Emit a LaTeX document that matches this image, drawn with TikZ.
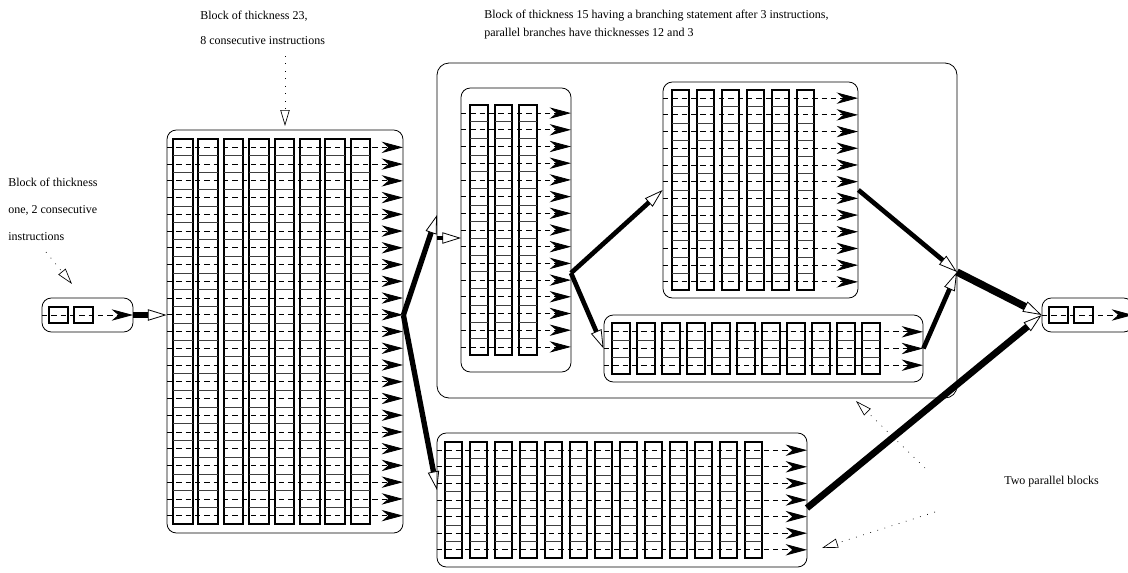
\documentclass[tikz,border=0pt]{standalone}
\usepackage{fontspec}
\setmainfont{Liberation Serif}
\usetikzlibrary{arrows.meta,fit}

\tikzset{
  blockbox/.style={draw, line width=0.6pt, rounded corners=7pt, inner sep=0pt},
  outerbox/.style={draw, line width=0.6pt, rounded corners=9pt, inner sep=0pt},
  colbox/.style={draw, line width=1.5pt},
  celldiv/.style={line width=0.4pt, black!75},
  flow/.style={line width=0.6pt, dash pattern=on 4pt off 3pt,
    -{Stealth[length=16pt, width=8.5pt, inset=5pt]}},
  conn/.style={line width=#1,
    -{Triangle[open, length=14pt, width=8.5pt, line width=0.6pt]}},
  conn/.default=3.5pt,
  note/.style={font=\fontsize{9}{11}\selectfont, anchor=base west, inner sep=0pt},
  hint/.style={line width=0.5pt, dash pattern=on 0.6pt off 5pt,
    -{Triangle[open, length=12pt, width=7pt, line width=0.5pt]}},
}

\def\bpitch{25}\def\bcolw{18}\def\browh{16.7}
% #1 name, #2 x0, #3 y0, #4 x1, #5 y1, #6 columns, #7 rows, #8 first column x
\newcommand\instrblock[8]{%
  \node[blockbox, fit={(#2,#3) (#4,#5)}] (#1) {};
  \pgfmathsetmacro\bctop{(#3+#5)/2-#7*\browh/2}
  \pgfmathsetmacro\bcbot{(#3+#5)/2+#7*\browh/2}
  \foreach \r in {1,...,#7}{
    \draw[flow] (#2,{\bctop+(\r-0.5)*\browh}) -- (#4,{\bctop+(\r-0.5)*\browh});
  }
  \foreach \c in {1,...,#6}{
    \pgfmathsetmacro\bcx{#8+(\c-1)*\bpitch}
    \draw[colbox] (\bcx,\bctop) rectangle ({\bcx+\bcolw},\bcbot);
    \ifnum#7>1
      \foreach \r in {2,...,#7}{
        \draw[celldiv] (\bcx,{\bctop+(\r-1)*\browh}) -- ({\bcx+\bcolw},{\bctop+(\r-1)*\browh});
      }
    \fi
  }
}

\begin{document}
\begin{tikzpicture}[x=0.75pt, y=-0.75pt]
\useasboundingbox (0,0) rectangle (1128,572);

% outer block of thickness 15
\node[outerbox, fit={(437,63) (957,398)}] (C) {};

\def\bpitch{25}\def\bcolw{19}\def\browh{16}
\instrblock{A}{42}{298}{133}{332}{2}{1}{49}
\instrblock{E}{1042}{298}{1133}{332}{2}{1}{1049}
\def\bpitch{25.4}\def\bcolw{19.5}\def\browh{16.74}
\instrblock{B}{167}{130}{403}{533}{8}{23}{173}
\def\bpitch{24.5}\def\bcolw{17.5}\def\browh{16.7}
\instrblock{C1}{461}{88}{571}{372}{3}{15}{470}
\def\bpitch{25}\def\bcolw{17}
\instrblock{C2}{663}{82}{858}{298}{6}{12}{672}
\def\bcolw{18}
\instrblock{C3}{604}{315}{923}{382}{11}{3}{612}
\def\bcolw{17}\def\browh{16.6}
\instrblock{D}{437}{433}{807}{567}{13}{7}{445}

% connectors
\coordinate (fork) at (A.east -| B.east);
\coordinate (dIn) at (437,490);
\coordinate (cTop) at (437,215);
\coordinate (cIn) at (437,238);
\coordinate (c1In) at (461,238);
\coordinate (split) at (571,273);
\coordinate (join) at (957,272);
\coordinate (dOut) at (807,508);

\draw[conn=4.5pt] (A.east) -- (A.east -| B.west);
\draw[conn=4pt] (fork) -- (cTop);
\draw[conn=4pt] (fork) -- (dIn);
\draw[conn=3pt] (cIn) -- (c1In);
\draw[conn=3.5pt] (split) -- (C2.west);
\draw[conn=3.5pt] (split) -- (C3.west);
\draw[conn=3.5pt] (C2.east) -- (join);
\draw[conn=3.5pt] (C3.east) -- (join);
\draw[conn=5.5pt] (join) -- (E.west);
\draw[conn=5pt] (dOut) -- (E.west);

% annotations
\node[note] (n1a) at (8,186) {Block of thickness};
\node[note] (n1b) at (8,213.5) {one, 2 consecutive};
\node[note] (n1c) at (8,240.5) {instructions};
\coordinate (h1s) at (46,252);
\coordinate (h1e) at (72,284);
\draw[hint] (h1s) -- (h1e);

\node[note] (n2a) at (200,19.5) {Block of thickness 23,};
\node[note] (n2b) at (200,44.5) {8 consecutive instructions};
\coordinate (h2s) at (285,56);
\coordinate (h2e) at (285,126);
\draw[hint] (h2s) -- (h2e);

\node[note] (n3a) at (484,18.5) {Block of thickness 15 having a branching statement after 3 instructions,};
\node[note] (n3b) at (484,36.5) {parallel branches have thicknesses 12 and 3};

\node[note] (n4) at (1004,484) {Two parallel blocks};
\coordinate (h4s) at (925,468);
\coordinate (h4e) at (856,401);
\coordinate (h5s) at (935,512);
\coordinate (h5e) at (822,548);
\draw[hint] (h4s) -- (h4e);
\draw[hint] (h5s) -- (h5e);
\end{tikzpicture}
\end{document}
